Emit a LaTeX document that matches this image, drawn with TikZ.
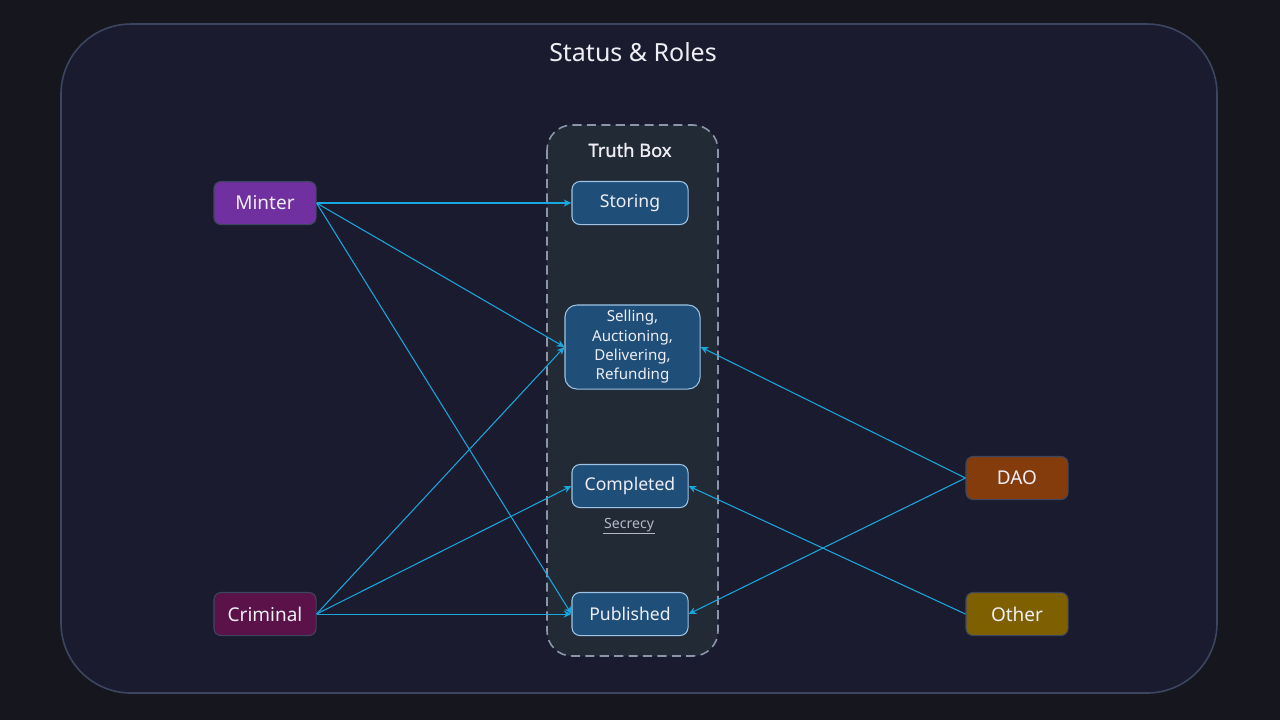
\documentclass[tikz,border=0pt]{standalone}
\usepackage{fontspec}
\setmainfont{Noto Sans}
\newfontfamily\semibold{Noto Sans}[FakeBold=1.3]
\usetikzlibrary{arrows.meta}
\definecolor{pagebg}{HTML}{16161F}
\definecolor{panelbg}{HTML}{1A1B2E}
\definecolor{panelline}{HTML}{3D4660}
\definecolor{truthbg}{HTML}{222A36}
\definecolor{truthline}{HTML}{8C96AA}
\definecolor{statebg}{HTML}{1F4E79}
\definecolor{stateline}{HTML}{9DC3E6}
\definecolor{flow}{HTML}{1AA7E0}
\definecolor{txt}{HTML}{EEEEF4}
\definecolor{quiet}{HTML}{B4B8C6}
\definecolor{minterc}{HTML}{7030A0}
\definecolor{criminalc}{HTML}{5A1249}
\definecolor{daoc}{HTML}{843C0C}
\definecolor{otherc}{HTML}{7F6000}
\tikzset{
  state/.style={draw=stateline, line width=0.3pt, fill=statebg, rounded corners=0.08cm,
    minimum width=1.16cm, minimum height=0.43cm, inner sep=0pt, text=txt,
    font=\fontsize{5}{6}\selectfont},
  role/.style={draw=panelline, line width=0.3pt, rounded corners=0.07cm,
    minimum width=1.02cm, minimum height=0.43cm, inner sep=0pt, text=txt,
    font=\fontsize{5.4}{6.5}\selectfont},
  link/.style={draw=flow, line width=0.3pt, -{Stealth[length=2.2pt,width=2pt]}}
}
\begin{document}
\begin{tikzpicture}[x=0.01cm, y=-0.01cm]
  \useasboundingbox (0,0) rectangle (1280,720);
  \fill[pagebg] (0,0) rectangle (1280,720);
  \draw[panelline, fill=panelbg, line width=0.45pt, rounded corners=0.7cm] (61,24) rectangle (1217,693);
  \node[text=txt, font=\fontsize{7.1}{8.5}\selectfont] (title) at (633,52) {Status \& Roles};

  % truth box
  \draw[truthline, fill=truthbg, line width=0.45pt, dash pattern=on 2.6pt off 1.5pt, rounded corners=0.25cm] (547,125) rectangle (718,656);
  \node[text=txt, font=\fontsize{5.2}{6.2}\semibold] (tb) at (630,150) {Truth Box};

  \node[state] (storing) at (630,203) {Storing};
  \node[state, minimum width=1.35cm, minimum height=0.84cm, rounded corners=0.12cm,
    align=center, font=\fontsize{4.3}{5.5}\selectfont] (selling) at (632.5,347)
    {Selling,\\Auctioning,\\Delivering,\\Refunding};
  \node[state] (completed) at (630,486) {Completed};
  \node[text=quiet, inner sep=0pt, font=\fontsize{4}{5}\selectfont] (secrecy) at (629,525) {Secrecy};
  \draw[quiet, line width=0.25pt] ([yshift=-0.4pt]secrecy.south west) -- ([yshift=-0.4pt]secrecy.south east);
  \node[state] (published) at (630,614) {Published};

  % roles
  \node[role, fill=minterc] (minter) at (265,203) {Minter};
  \node[role, fill=criminalc] (criminal) at (265,614) {Criminal};
  \node[role, fill=daoc] (dao) at (1017,478) {DAO};
  \node[role, fill=otherc] (other) at (1017,614) {Other};

  \draw[link] (minter.east) -- (storing.west);
  \draw[link] (minter.east) -- (selling.west);
  \draw[link] (minter.east) -- (published.west);
  \draw[link] (criminal.east) -- (selling.west);
  \draw[link] (criminal.east) -- (completed.west);
  \draw[link] (criminal.east) -- (published.west);
  \draw[link] (dao.west) -- (selling.east);
  \draw[link] (dao.west) -- (published.east);
  \draw[link] (other.west) -- (completed.east);
\end{tikzpicture}
\end{document}
